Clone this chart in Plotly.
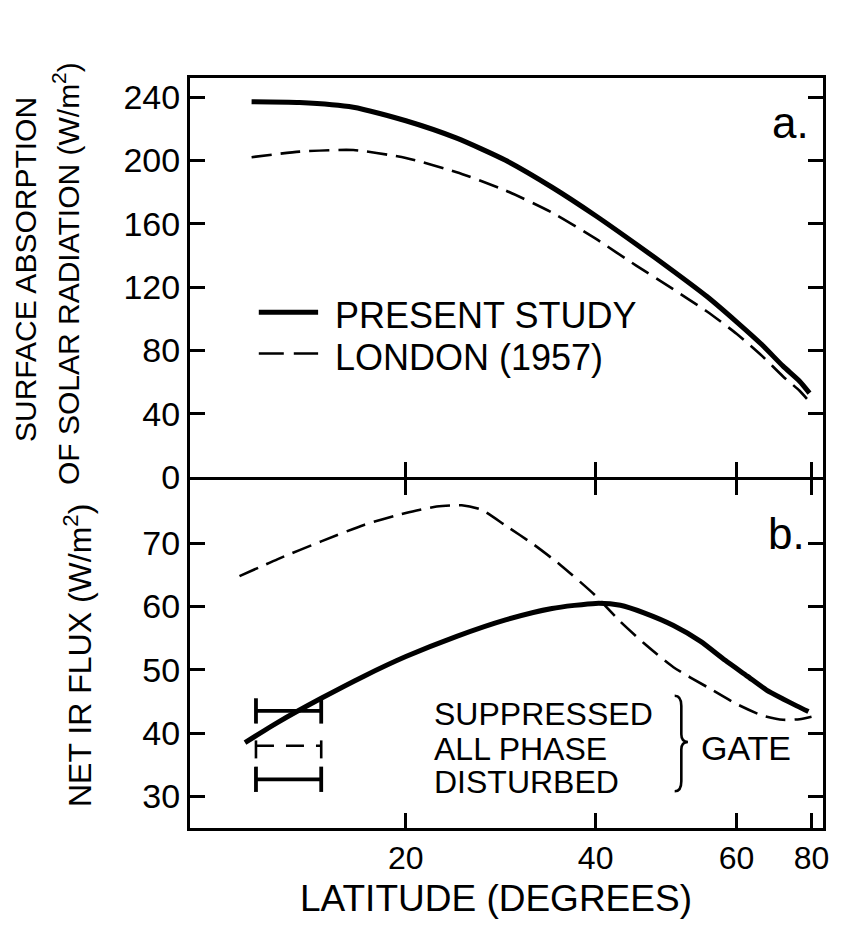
import numpy as np
import plotly.graph_objects as go
from plotly.subplots import make_subplots

# ---------------- data ----------------
# Panel a: surface absorption of solar radiation (W/m2) vs latitude (deg)
LAT_A_PRESENT = [5.6, 10, 15, 20, 25, 30, 35, 40, 45, 50, 55, 60, 65, 70, 75, 79]
SOLAR_PRESENT = [237, 236.5, 233.5, 225, 214, 200, 183, 165, 147, 130, 114, 98, 83.5, 70, 60.5, 53]
LAT_A_LONDON = [5.6, 10, 15, 20, 25, 30, 35, 40, 45, 50, 55, 60, 65, 70, 75, 79]
SOLAR_LONDON = [202, 205.5, 206.5, 201.5, 192.5, 181, 167, 150.5, 133.5, 118.5, 104.5, 90.5, 76.5, 63.5, 54.5, 47.5]

# Panel b: net IR flux (W/m2) vs latitude (deg)
LAT_B_PRESENT = [5, 8, 12, 16, 20, 25, 30, 35, 40, 43, 46, 50, 54, 58, 62, 66, 70, 74, 78.5]
IR_PRESENT = [38.5, 41.7, 45.5, 49.0, 52.1, 55.3, 57.9, 59.7, 60.5, 60.2, 59.0, 57.0, 54.5,
              51.5, 49.0, 46.8, 45.4, 44.3, 43.4]
LAT_B_LONDON = [4.5, 8, 12, 16, 20, 23, 25.5, 27.5, 30, 33, 36, 40, 43, 46, 50, 55, 60, 65, 70, 75, 80]
IR_LONDON = [64.8, 67.5, 70.3, 72.9, 74.8, 75.8, 76.0, 75.3, 72.8, 69.8, 66.5, 61.7, 57.6, 54.2,
             50.4, 47.3, 44.6, 42.8, 42.1, 42.2, 42.6]

# GATE observations (latitude band and values)
GATE_LAT = [6, 12]
GATE_LABELS = ["SUPPRESSED", "ALL PHASE", "DISTURBED"]
GATE_VALUES = [43.5, 38.0, 32.7]

SERIES_NAMES = ["PRESENT STUDY", "LONDON (1957)"]
X_TICKS = [20, 40, 60, 80]
Y_TICKS_A = [0, 40, 80, 120, 160, 200, 240]
Y_TICKS_B = [30, 40, 50, 60, 70]

# ---------------- styling ----------------
FONT = "Liberation Sans, Arial, sans-serif"
BLACK = "black"
SOLID_W = 5
DASH_W = 2.6
DASH = "20px,9px"
LW = 3  # axis line width

PLOT_L, PLOT_R, PLOT_T, PLOT_B = 190, 826, 78, 828
H_TOTAL = PLOT_B - PLOT_T
SPLIT = 480  # pixel row of the boundary between panels


def sx(lat):
    """latitude axis is drawn in sine of latitude (area-weighted)"""
    return list(np.sin(np.radians(np.asarray(lat, dtype=float))))


def py(ypx):
    return (PLOT_B - ypx) / H_TOTAL


fig = make_subplots(rows=2, cols=1, shared_xaxes=True, vertical_spacing=0)

# panel a
fig.add_trace(go.Scatter(x=sx(LAT_A_PRESENT), y=SOLAR_PRESENT, mode="lines",
                         line=dict(color=BLACK, width=SOLID_W, shape="spline", smoothing=0.6),
                         name=SERIES_NAMES[0], showlegend=False), row=1, col=1)
fig.add_trace(go.Scatter(x=sx(LAT_A_LONDON), y=SOLAR_LONDON, mode="lines",
                         line=dict(color=BLACK, width=DASH_W, dash=DASH, shape="spline", smoothing=0.6),
                         name=SERIES_NAMES[1], showlegend=False), row=1, col=1)

# panel b
fig.add_trace(go.Scatter(x=sx(LAT_B_PRESENT), y=IR_PRESENT, mode="lines",
                         line=dict(color=BLACK, width=SOLID_W, shape="spline", smoothing=0.6),
                         name=SERIES_NAMES[0], showlegend=False), row=2, col=1)
fig.add_trace(go.Scatter(x=sx(LAT_B_LONDON), y=IR_LONDON, mode="lines",
                         line=dict(color=BLACK, width=DASH_W, dash=DASH, shape="spline", smoothing=0.6),
                         name=SERIES_NAMES[1], showlegend=False), row=2, col=1)

# GATE range bars with end caps
CAP = 2.0  # cap half-height in axis units
lo, hi = sx(GATE_LAT)
for i, (lab, v) in enumerate(zip(GATE_LABELS, GATE_VALUES)):
    dashed = (i == 1)
    fig.add_trace(go.Scatter(
        x=[lo, lo, None, lo, hi, None, hi, hi],
        y=[v - CAP, v + CAP, None, v, v, None, v - CAP, v + CAP],
        mode="lines",
        line=dict(color=BLACK, width=2.6 if dashed else 3.8,
                  dash="18px,12px" if dashed else "solid"),
        name=lab, showlegend=False), row=2, col=1)

# ---------------- axes ----------------
axis_common = dict(showline=True, linecolor=BLACK, linewidth=LW, ticks="inside",
                   ticklen=15, tickwidth=3, tickcolor=BLACK, showgrid=False, zeroline=False,
                   tickfont=dict(family=FONT, size=34, color=BLACK))
xt = sx(X_TICKS)
fig.update_xaxes(**axis_common, range=[0, 1.003], tickvals=xt,
                 ticktext=[str(t) for t in X_TICKS])
fig.update_xaxes(mirror=True, showticklabels=False, row=1, col=1)
fig.update_xaxes(mirror="ticks", ticklabelstandoff=0, row=2, col=1,
                 tickfont=dict(family=FONT, size=32, color=BLACK))
fig.update_yaxes(**axis_common, mirror="ticks", ticklabelstandoff=0)
# top domain raised by one line width so both boundary lines coincide
fig.update_yaxes(range=[0, 252], tickvals=Y_TICKS_A, row=1, col=1,
                 domain=[py(SPLIT) + LW / H_TOTAL, 1])
fig.update_yaxes(range=[25, 80], tickvals=Y_TICKS_B, row=2, col=1,
                 domain=[0, py(SPLIT)])

# ---------------- legend keys & labels ----------------
shapes = [
    dict(type="line", xref="x", yref="y", x0=0.109, x1=0.203, y0=104, y1=104,
         line=dict(color=BLACK, width=SOLID_W)),
    dict(type="line", xref="x", yref="y", x0=0.109, x1=0.203, y0=78, y1=78,
         line=dict(color=BLACK, width=DASH_W, dash="25px,10px")),
]
# brace for GATE group
bx, w, top, bot, mid = 0.768, 0.021, 45.9, 30.8, 38.6
hx = bx + w / 2
brace = (f"M {bx},{top} Q {hx},{top} {hx},{top - 1.6} L {hx},{mid + 1.2} "
         f"Q {hx},{mid} {bx + w},{mid} Q {hx},{mid} {hx},{mid - 1.2} "
         f"L {hx},{bot + 1.6} Q {hx},{bot} {bx},{bot}")
shapes.append(dict(type="path", xref="x2", yref="y2", path=brace,
                   line=dict(color=BLACK, width=2.6)))

ann = []
tf = dict(family=FONT, size=32, color=BLACK)
lf = dict(family=FONT, size=36, color=BLACK)
ann.append(dict(x=0.227, y=102, xref="x", yref="y", text=SERIES_NAMES[0], showarrow=False,
                xanchor="left", yanchor="middle", font=lf))
ann.append(dict(x=0.227, y=75.5, xref="x", yref="y", text=SERIES_NAMES[1], showarrow=False,
                xanchor="left", yanchor="middle", font=lf))
ann.append(dict(x=0.952, y=224, xref="x", yref="y", text="a.", showarrow=False,
                xanchor="center", yanchor="middle", font=dict(family=FONT, size=44, color=BLACK)))
ann.append(dict(x=0.945, y=71.6, xref="x2", yref="y2", text="b.", showarrow=False,
                xanchor="center", yanchor="middle", font=dict(family=FONT, size=44, color=BLACK)))
for lab, v in zip(GATE_LABELS, GATE_VALUES):
    ann.append(dict(x=0.383, y=v, xref="x2", yref="y2", text=lab, showarrow=False,
                    xanchor="left", yanchor="middle", yshift=-3, font=tf))
ann.append(dict(x=0.806, y=GATE_VALUES[1], xref="x2", yref="y2", text="GATE", showarrow=False,
                xanchor="left", yanchor="middle", yshift=-2, font=dict(family=FONT, size=34, color=BLACK)))

# axis titles
ann.append(dict(x=0, xref="paper", xshift=25 - PLOT_L, y=py(270), yref="paper",
                text="SURFACE ABSORPTION", textangle=-90, showarrow=False,
                xanchor="center", yanchor="middle", font=dict(family=FONT, size=30, color=BLACK)))
ann.append(dict(x=0, xref="paper", xshift=66 - PLOT_L, y=py(274), yref="paper",
                text="OF SOLAR RADIATION (W/m<sup>2</sup>)", textangle=-90, showarrow=False,
                xanchor="center", yanchor="middle", font=dict(family=FONT, size=30, color=BLACK)))
ann.append(dict(x=0, xref="paper", xshift=78 - PLOT_L, y=py(656), yref="paper",
                text="NET IR FLUX (W/m<sup>2</sup>)", textangle=-90, showarrow=False,
                xanchor="center", yanchor="middle", font=dict(family=FONT, size=32, color=BLACK)))
ann.append(dict(x=0, xref="paper", xshift=496 - PLOT_L, y=py(898), yref="paper",
                text="LATITUDE (DEGREES)", showarrow=False,
                xanchor="center", yanchor="middle", font=dict(family=FONT, size=37, color=BLACK)))

fig.update_layout(width=841, height=930, autosize=False,
                  margin=dict(l=PLOT_L, r=841 - PLOT_R, t=PLOT_T, b=930 - PLOT_B),
                  paper_bgcolor="white", plot_bgcolor="white",
                  shapes=shapes, annotations=ann, showlegend=False)

fig.write_html("out.html")
